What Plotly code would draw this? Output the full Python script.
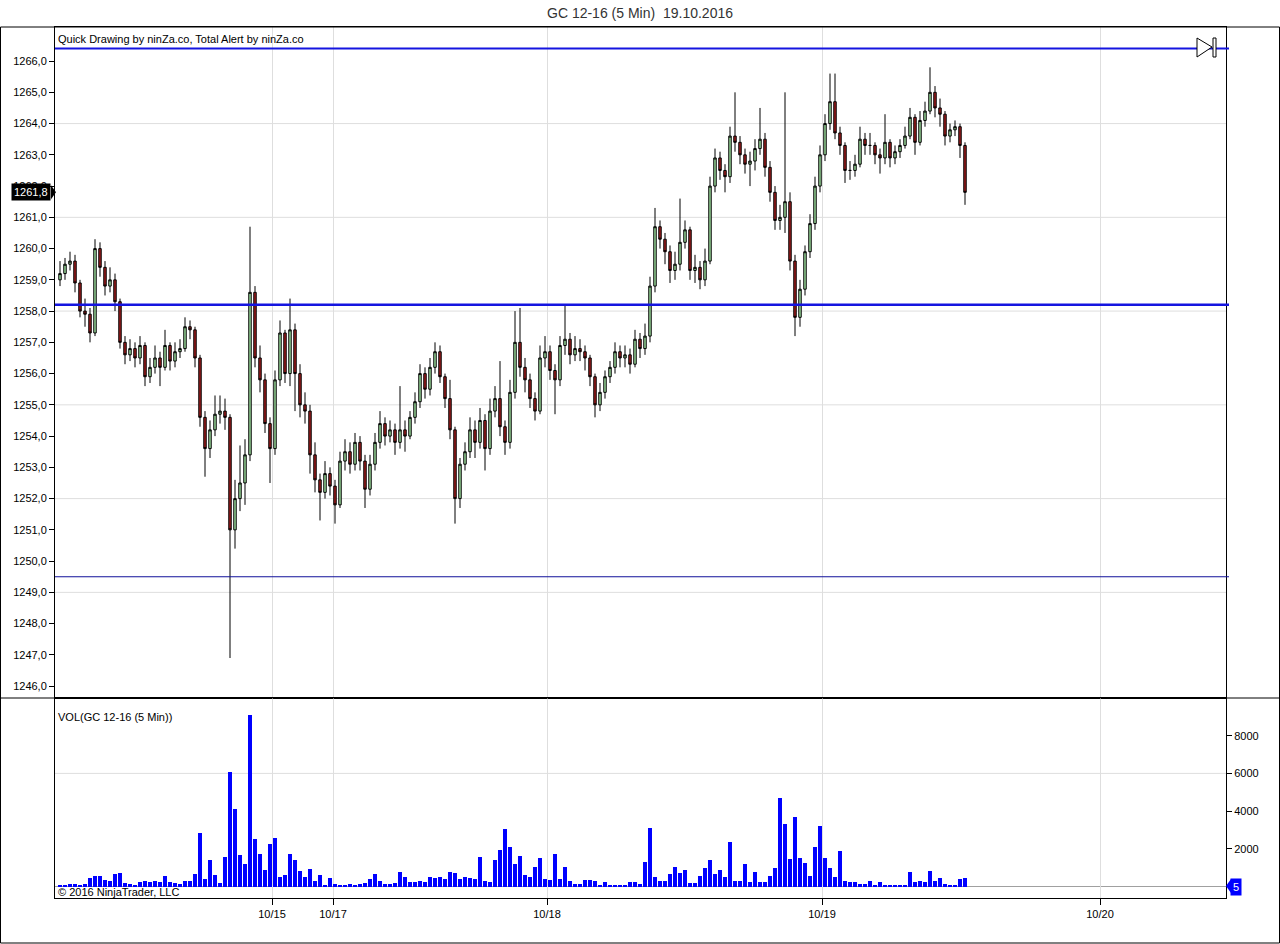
import plotly.graph_objects as go

# ---------------- data ----------------
first_open = 1259.0
close = [
    1259.2, 1259.5, 1259.6, 1258.9, 1258.0, 1257.9, 1257.3, 1260.0, 1259.4, 1258.8,
    1259.0, 1258.3, 1257.0, 1256.6, 1256.8, 1256.5, 1256.9, 1255.9, 1256.2, 1256.5,
    1256.2, 1256.9, 1256.4, 1256.7, 1256.8, 1257.5, 1257.4, 1256.5, 1254.6, 1253.6,
    1254.2, 1254.7, 1254.8, 1254.6, 1251.0, 1252.0, 1252.5, 1253.4, 1258.6, 1256.5,
    1255.8, 1254.4, 1253.6, 1255.8, 1257.3, 1256.0, 1257.4, 1256.0, 1255.0, 1254.8,
    1253.4, 1252.6, 1252.2, 1252.8, 1252.4, 1251.8, 1253.2, 1253.5, 1253.1, 1253.8,
    1253.2, 1252.3, 1253.1, 1253.8, 1254.4, 1254.0, 1254.2, 1253.8, 1254.2, 1254.0,
    1254.6, 1255.1, 1256.0, 1255.5, 1256.2, 1256.7, 1255.9, 1255.2, 1254.2, 1252.0,
    1253.1, 1253.5, 1254.2, 1253.8, 1254.5, 1253.6, 1254.8, 1255.2, 1254.3, 1253.8,
    1255.4, 1257.0, 1256.2, 1255.8, 1255.2, 1254.8, 1256.5, 1256.7, 1256.1, 1255.8,
    1256.9, 1257.1, 1256.6, 1256.8, 1256.7, 1256.5, 1255.9, 1255.0, 1255.4, 1255.9,
    1256.2, 1256.7, 1256.5, 1256.6, 1256.3, 1257.1, 1256.8, 1257.2, 1258.8, 1260.7,
    1260.3, 1259.9, 1259.3, 1259.5, 1260.2, 1260.6, 1259.3, 1259.4, 1259.0, 1259.6,
    1262.0, 1262.9, 1262.5, 1262.3, 1263.6, 1263.4, 1263.0, 1262.7, 1262.8, 1263.2,
    1263.5, 1262.6, 1261.8, 1260.9, 1261.0, 1261.5, 1259.6, 1257.8, 1258.7, 1259.9,
    1260.8, 1262.0, 1263.0, 1264.0, 1264.7, 1263.7, 1263.3, 1262.5, 1262.5, 1262.7,
    1263.5, 1263.3, 1263.3, 1263.0, 1262.9, 1263.4, 1262.9, 1263.1, 1263.3, 1263.6,
    1264.2, 1263.4, 1264.1, 1264.4, 1265.0, 1264.5, 1264.3, 1263.6, 1263.8, 1263.9,
    1263.3, 1261.8,
]
high = [
    1259.6, 1259.7, 1259.9, 1259.8, 1259.0, 1258.4, 1258.1, 1260.3, 1260.2, 1259.6,
    1259.4, 1259.2, 1258.4, 1257.2, 1257.1, 1257.0, 1257.2, 1257.0, 1256.5, 1256.9,
    1256.7, 1257.4, 1257.0, 1257.0, 1257.1, 1257.8, 1257.7, 1257.5, 1256.6, 1254.8,
    1254.5, 1255.3, 1255.3, 1255.2, 1254.7, 1252.6, 1253.7, 1253.9, 1260.7, 1258.8,
    1256.9, 1256.0, 1254.6, 1256.1, 1257.7, 1257.4, 1258.4, 1257.6, 1256.3, 1255.4,
    1255.0, 1253.8, 1252.8, 1253.2, 1253.0, 1252.6, 1253.5, 1253.9, 1253.8, 1254.1,
    1254.0, 1253.4, 1253.4, 1254.1, 1254.8, 1254.6, 1254.5, 1254.4, 1255.6, 1254.5,
    1254.8, 1255.4, 1256.3, 1256.2, 1256.5, 1257.0, 1256.9, 1256.0, 1255.8, 1254.3,
    1253.3, 1253.8, 1254.6, 1254.5, 1254.9, 1254.7, 1255.2, 1255.6, 1256.4, 1254.5,
    1255.8, 1258.0, 1258.1, 1256.5, 1256.0, 1255.4, 1256.9, 1257.2, 1256.9, 1256.3,
    1257.2, 1258.2, 1257.3, 1257.2, 1257.1, 1256.9, 1256.6, 1256.0, 1255.7, 1256.1,
    1256.4, 1257.0, 1256.9, 1256.9, 1256.8, 1257.4, 1257.3, 1257.6, 1259.1, 1261.3,
    1260.9, 1260.5, 1260.1, 1259.9, 1261.6, 1260.9, 1260.7, 1259.8, 1259.6, 1260.0,
    1262.3, 1263.2, 1263.1, 1262.7, 1263.9, 1265.0, 1263.6, 1263.2, 1263.1, 1263.5,
    1264.5, 1263.7, 1262.8, 1262.0, 1261.4, 1265.0, 1261.8, 1259.8, 1259.0, 1260.1,
    1261.1, 1262.3, 1263.3, 1264.3, 1265.6, 1265.6, 1263.9, 1263.4, 1262.8, 1263.0,
    1263.9, 1263.7, 1263.7, 1263.4, 1263.2, 1264.3, 1263.5, 1263.3, 1263.5, 1263.9,
    1264.5, 1264.3, 1264.4, 1264.7, 1265.8, 1265.2, 1264.8, 1264.4, 1264.0, 1264.1,
    1264.0, 1263.4,
]
low = [
    1258.8, 1259.0, 1259.3, 1258.6, 1257.8, 1257.5, 1257.0, 1257.2, 1259.1, 1258.5,
    1258.6, 1258.0, 1256.8, 1256.3, 1256.4, 1256.2, 1256.3, 1255.6, 1255.7, 1256.0,
    1255.6, 1256.1, 1256.1, 1256.2, 1256.5, 1256.7, 1257.1, 1256.2, 1254.3, 1252.7,
    1253.3, 1254.0, 1254.4, 1254.2, 1246.9, 1250.4, 1251.6, 1251.8, 1253.2, 1256.2,
    1255.4, 1254.1, 1252.5, 1253.4, 1255.6, 1255.7, 1255.6, 1254.8, 1254.6, 1254.4,
    1252.8, 1252.2, 1251.3, 1252.0, 1252.1, 1251.2, 1251.7, 1252.9, 1252.8, 1252.9,
    1252.9, 1251.7, 1252.1, 1252.9, 1253.6, 1253.7, 1253.8, 1253.4, 1253.6, 1253.5,
    1253.9, 1254.4, 1254.9, 1255.2, 1255.3, 1256.0, 1255.7, 1254.9, 1253.9, 1251.2,
    1251.7, 1252.9, 1253.3, 1253.3, 1253.6, 1252.9, 1253.4, 1254.6, 1254.0, 1253.4,
    1253.6, 1255.2, 1255.9, 1255.4, 1254.9, 1254.5, 1254.7, 1256.2, 1255.8, 1254.7,
    1255.6, 1256.6, 1256.3, 1256.4, 1256.4, 1256.1, 1255.6, 1254.6, 1254.8, 1255.2,
    1255.7, 1256.0, 1256.2, 1256.2, 1256.0, 1256.2, 1256.5, 1256.6, 1257.0, 1258.6,
    1260.0, 1259.5, 1258.9, 1259.0, 1259.3, 1260.0, 1259.0, 1258.9, 1258.7, 1258.8,
    1259.5, 1261.8, 1262.2, 1261.8, 1262.1, 1263.1, 1262.7, 1262.4, 1262.0, 1262.5,
    1263.0, 1262.3, 1261.5, 1260.6, 1260.6, 1260.5, 1259.3, 1257.2, 1257.5, 1258.5,
    1259.7, 1260.6, 1261.8, 1262.8, 1263.8, 1263.5, 1263.0, 1262.1, 1262.2, 1262.3,
    1262.6, 1263.0, 1263.0, 1262.7, 1262.4, 1262.7, 1262.6, 1262.7, 1262.9, 1263.2,
    1263.5, 1263.0, 1263.3, 1263.9, 1264.3, 1264.2, 1263.9, 1263.3, 1263.4, 1263.6,
    1262.9, 1261.4,
]
volume = [
    50, 100, 150, 150, 100, 150, 450, 550, 550, 350,
    300, 650, 700, 200, 150, 100, 250, 300, 250, 300,
    250, 550, 250, 200, 150, 300, 300, 650, 2850, 400,
    1400, 600, 200, 1550, 6100, 4100, 1650, 1200, 9100, 2500,
    1750, 850, 2250, 2550, 500, 600, 1700, 1400, 800, 500,
    950, 300, 600, 100, 450, 150, 100, 100, 150, 100,
    150, 200, 400, 650, 300, 150, 150, 200, 750, 500,
    250, 250, 300, 250, 500, 450, 500, 400, 750, 700,
    400, 500, 450, 400, 1550, 300, 250, 1400, 1950, 3050,
    2100, 1200, 1600, 600, 500, 1050, 1500, 400, 350, 1750,
    400, 1050, 300, 150, 150, 350, 350, 300, 100, 250,
    50, 30, 30, 30, 250, 250, 150, 1300, 3100, 500,
    300, 300, 650, 1050, 700, 850, 200, 200, 550, 1000,
    1400, 650, 850, 500, 2350, 300, 300, 1200, 250, 750,
    250, 250, 550, 1000, 4700, 3300, 1450, 3700, 1500, 1250,
    550, 2100, 3200, 1500, 1000, 500, 1900, 300, 250, 250,
    150, 150, 300, 100, 250, 30, 30, 30, 100, 100,
    750, 250, 300, 250, 800, 300, 450, 150, 100, 100,
    400, 450,
]
date_labels = ["10/15", "10/17", "10/18", "10/19", "10/20"]
date_bar_pos = [42.4, 54.6, 97.4, 152.4, 208.0]
price_ticks = [1246 + k for k in range(21)]
price_grid = [1249, 1252, 1255, 1258, 1261, 1264]
vol_ticks = [2000, 4000, 6000, 8000]
drawn_lines = [1266.4, 1258.2, 1249.5]
last_price = 1261.8
last_volume = 5

# ---------------- helpers (pixel -> paper) ----------------
W, H = 1280, 944
def px(x):
    return x / W
def py(y):
    return 1 - y / H

opens = [first_open] + close[:-1]
bars = list(range(len(close)))
FONT = "Liberation Sans, Arial, sans-serif"

fig = go.Figure()
fig.add_trace(go.Candlestick(
    x=bars, open=opens, high=high, low=low, close=close,
    increasing=dict(line=dict(color="black", width=1), fillcolor="#9fe09f"),
    decreasing=dict(line=dict(color="black", width=1), fillcolor="#a01c1c"),
    whiskerwidth=0, xaxis="x", yaxis="y", showlegend=False,
))
fig.add_trace(go.Bar(
    x=bars, y=volume, width=0.85, marker=dict(color="#0000ff", line=dict(width=0)),
    xaxis="x2", yaxis="y2", showlegend=False,
))

xr = [(55 - 60) / 5, (1226 - 60) / 5]
main_dom = [py(698), py(27)]
vol_dom = [py(898), py(698)]
xdom = [px(55), px(1226)]

fig.update_layout(
    width=W, height=H, margin=dict(l=0, r=0, t=0, b=0),
    paper_bgcolor="white", plot_bgcolor="white",
    font=dict(family=FONT, size=11, color="black"),
    xaxis=dict(domain=xdom, range=xr, anchor="y", tickvals=date_bar_pos,
               showticklabels=False, ticks="", showgrid=True, gridcolor="#dedede",
               gridwidth=1, zeroline=False, showline=True, linecolor="black",
               linewidth=1, mirror=True, rangeslider=dict(visible=False)),
    yaxis=dict(domain=main_dom, range=[1245.62, 1267.09], anchor="x", side="left",
               tickvals=price_ticks,
               ticktext=[f"{v:.1f}".replace(".", ",") for v in price_ticks],
               ticks="outside", ticklen=5, tickcolor="black", showgrid=False,
               zeroline=False, showline=True, linecolor="black", linewidth=1,
               mirror=True, tickfont=dict(size=11)),
    xaxis2=dict(domain=xdom, range=xr, anchor="y2", tickvals=date_bar_pos,
                ticktext=date_labels, ticks="outside", ticklen=6, tickcolor="black",
                showgrid=True, gridcolor="#dedede", zeroline=False, showline=True,
                linecolor="black", linewidth=1, mirror=True, tickfont=dict(size=11)),
    yaxis2=dict(domain=vol_dom, range=[-610, 10000], anchor="x2", side="right",
                tickvals=vol_ticks, ticktext=[str(v) for v in vol_ticks],
                ticks="outside", ticklen=5, tickcolor="black", showgrid=False,
                zeroline=False, showline=True, linecolor="black", linewidth=1,
                mirror=True, tickfont=dict(size=11)),
    bargap=0,
)

shapes = []
for g in price_grid:
    shapes.append(dict(type="line", xref="paper", yref="y", x0=xdom[0], x1=xdom[1],
                       y0=g, y1=g, line=dict(color="#dedede", width=1), layer="below"))
shapes.append(dict(type="line", xref="paper", yref="y2", x0=xdom[0], x1=xdom[1],
                   y0=6000, y1=6000, line=dict(color="#dedede", width=1), layer="below"))
shapes.append(dict(type="line", xref="paper", yref="y2", x0=xdom[0], x1=xdom[1],
                   y0=0, y1=0, line=dict(color="#a0a0a0", width=1), layer="below"))
line_styles = [("#1515e0", 2), ("#1515e0", 2.5), ("#10109a", 1.2)]
for v, (c, w) in zip(drawn_lines, line_styles):
    shapes.append(dict(type="line", xref="paper", yref="y", x0=xdom[0], x1=px(1229),
                       y0=v, y1=v, line=dict(color=c, width=w)))
shapes.append(dict(type="rect", xref="paper", yref="paper", x0=px(0.5), x1=px(1279.5),
                   y0=py(943), y1=py(27), line=dict(color="black", width=1)))
shapes.append(dict(type="line", xref="paper", yref="paper", x0=0, x1=1,
                   y0=py(698), y1=py(698), line=dict(color="black", width=1)))
shapes.append(dict(type="path", xref="paper", yref="paper",
                   path=f"M {px(1197)},{py(38)} L {px(1212)},{py(47)} L {px(1197)},{py(57)} Z",
                   line=dict(color="black", width=1), fillcolor="white"))
shapes.append(dict(type="rect", xref="paper", yref="paper", x0=px(1213), x1=px(1216),
                   y0=py(57), y1=py(38), line=dict(color="black", width=1), fillcolor="white"))
ylp = 61 + (1266 - last_price) * 31.25
shapes.append(dict(type="path", xref="paper", yref="paper",
                   path=f"M {px(51)},{py(ylp-7)} L {px(56)},{py(ylp)} L {px(51)},{py(ylp+7)} Z",
                   line=dict(color="black", width=0), fillcolor="black"))
shapes.append(dict(type="path", xref="paper", yref="paper",
                   path=f"M {px(1231)},{py(879)} L {px(1226)},{py(886)} L {px(1231)},{py(893)} Z",
                   line=dict(color="#0000ff", width=0), fillcolor="#0000ff"))
fig.update_layout(shapes=shapes)

ann = [
    dict(text="GC 12-16 (5 Min)  19.10.2016", xref="paper", yref="paper", x=0.5, y=py(13),
         xanchor="center", yanchor="middle", showarrow=False,
         font=dict(size=14, color="#333333")),
    dict(text="Quick Drawing by ninZa.co, Total Alert by ninZa.co", xref="paper", yref="paper",
         x=px(56), y=py(39), xanchor="left", yanchor="middle", showarrow=False,
         font=dict(size=11)),
    dict(text="VOL(GC 12-16 (5 Min))", xref="paper", yref="paper", x=px(56), y=py(717),
         xanchor="left", yanchor="middle", showarrow=False, font=dict(size=11)),
    dict(text="© 2016 NinjaTrader, LLC", xref="paper", yref="paper", x=px(56), y=py(892),
         xanchor="left", yanchor="middle", showarrow=False, font=dict(size=11)),
    dict(text=f"{last_price:.1f}".replace(".", ","), xref="paper", yref="y", x=px(51),
         y=last_price, xanchor="right", yanchor="middle", showarrow=False,
         bgcolor="black", borderpad=2, font=dict(size=11, color="white")),
    dict(text=str(last_volume), xref="paper", yref="y2", x=px(1230), y=0,
         xanchor="left", yanchor="middle", showarrow=False, bgcolor="#0000ff",
         borderpad=2, font=dict(size=11, color="white")),
]
fig.update_layout(annotations=ann)

fig.write_html("out.html", config={"displayModeBar": False},
               post_script="document.body.style.margin='0';")
